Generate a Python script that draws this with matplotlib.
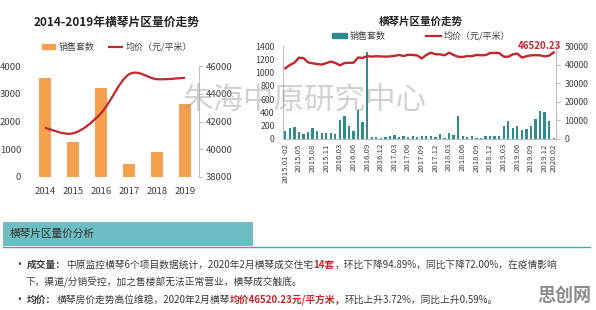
import matplotlib
matplotlib.use('Agg')
import matplotlib.pyplot as plt
from matplotlib.patches import Patch, Rectangle, PathPatch
from matplotlib.lines import Line2D
from matplotlib.path import Path
import numpy as np

plt.rcParams['font.family'] = ['Noto Sans CJK SC', 'DejaVu Sans']
plt.rcParams['axes.unicode_minus'] = False

W, H = 596, 310

# ---- data: yearly chart ----
years = ['2014', '2015', '2016', '2017', '2018', '2019']
year_sales = [3550, 1250, 3200, 480, 900, 2620]
year_price = [41550, 41150, 42600, 45400, 45050, 45150]

# ---- data: monthly chart ----
months = (['2015.01-02'] + ['2015.%02d' % m for m in range(3, 13)]
          + ['2016.01-02'] + ['2016.%02d' % m for m in range(3, 13)]
          + ['2017.%02d' % m for m in range(1, 13)]
          + ['2018.%02d' % m for m in range(1, 13)]
          + ['2019.%02d' % m for m in range(1, 13)]
          + ['2020.01', '2020.02'])
month_sales = [115, 165, 175, 100, 75, 110, 160, 115, 90, 90, 90, 75,
               280, 350, 190, 125, 440, 250, 1310,
               30, 35, 20, 25, 45, 55, 35, 40, 30, 45, 35, 40, 50, 40, 35,
               70, 20, 85, 60, 340, 50, 25, 45, 15, 10, 40, 45,
               50, 50, 200, 265, 165, 200, 130, 150, 200, 305, 415, 410,
               274, 14]
month_price = [38000, 39800, 41000, 43700, 43500, 41200, 40700, 40300, 40000,
               40800, 41600, 40900, 39600, 40800, 41000, 41000, 43800, 43600,
               44600, 44300, 44500, 44400, 44300, 44400, 44700, 45200, 44600,
               45300, 45200, 44900, 43300, 45200, 46400, 45600, 45500, 45000,
               46400, 45200, 44200, 44100, 44600, 44500, 45200, 45000, 45100,
               46200, 46300, 46247, 44300, 44200, 45500, 45900, 43800, 44500,
               45000, 45100, 45000, 44400, 44851, 46520.23]

ORANGE = '#F5A04E'
RED = '#C1272D'
TEAL = '#2F8C8E'
GREY = '#404040'
SPINE = '#BFBFBF'


def px_box(x0, y0, x1, y1):
    return [x0 / W, 1 - y1 / H, (x1 - x0) / W, (y1 - y0) / H]


def smooth_path(xs, ys):
    pts = np.column_stack([xs, ys]).astype(float)
    verts = [pts[0]]
    codes = [Path.MOVETO]
    n = len(pts)
    for i in range(n - 1):
        p0 = pts[i - 1] if i > 0 else pts[i]
        p1, p2 = pts[i], pts[i + 1]
        p3 = pts[i + 2] if i + 2 < n else pts[i + 1]
        verts += [p1 + (p2 - p0) / 6, p2 - (p3 - p1) / 6, p2]
        codes += [Path.CURVE4] * 3
    return Path(verts, codes)


fig = plt.figure(figsize=(W / 100, H / 100), dpi=100)

# ---------------- left chart ----------------
ax1 = fig.add_axes(px_box(31, 66, 199, 177))
x = np.arange(len(years))
ax1.bar(x, year_sales, width=0.42, color=ORANGE, zorder=2)
ax1.set_xlim(-0.5, len(years) - 0.5)
ax1.set_ylim(0, 4000)
ax1.set_yticks(range(0, 4001, 1000))
ax1.set_xticks(x)
ax1.set_xticklabels(years)
ax1.tick_params(axis='both', length=0, labelsize=6.8, colors=GREY)
ax1.tick_params(axis='y', pad=7)
ax1.tick_params(axis='x', pad=7)
for s in ax1.spines.values():
    s.set_visible(False)

ax1b = ax1.twinx()
ax1b.set_ylim(38000, 46000)
ax1b.set_yticks(range(38000, 46001, 2000))
ax1b.add_patch(PathPatch(smooth_path(x, year_price), facecolor='none',
                         edgecolor=RED, lw=1.6, zorder=3))
for s in ['top', 'left', 'bottom']:
    ax1b.spines[s].set_visible(False)
ax1b.spines['right'].set_color(SPINE)
ax1b.tick_params(axis='y', length=3, color=SPINE, labelsize=6.8,
                 colors=GREY, pad=2)

fig.text(117 / W, 1 - 22 / H, '2014-2019年横琴片区量价走势', ha='center',
         va='center', fontsize=8.5, fontweight='bold', color='#222222')
fig.legend([Patch(color=ORANGE), Line2D([], [], color=RED, lw=1.6)],
           ['销售套数', '均价（元/平米）'], loc='center',
           bbox_to_anchor=(117 / W, 1 - 47 / H), ncol=2, frameon=False,
           fontsize=6.5, handlelength=1.5, handleheight=0.6,
           columnspacing=1.5, handletextpad=0.4, labelcolor=GREY)

# ---------------- right chart ----------------
ax2 = fig.add_axes(px_box(283, 46, 556, 139))
xm = np.arange(len(months))
ax2.bar(xm, month_sales, width=0.5, color=TEAL, zorder=2)
ax2.set_xlim(-0.5, len(months) - 0.5)
ax2.set_ylim(0, 1400)
ax2.set_yticks(range(0, 1401, 200))
tick_idx = list(range(0, len(months) - 2, 3)) + [len(months) - 1]
ax2.set_xticks(tick_idx)
ax2.set_xticklabels([months[i] for i in tick_idx], rotation=90)
ax2.tick_params(axis='both', length=0, labelsize=6.3, colors=GREY)
ax2.tick_params(axis='y', pad=6)
ax2.tick_params(axis='x', labelsize=5.6, pad=3)
for s in ['top', 'right']:
    ax2.spines[s].set_visible(False)
ax2.spines['left'].set_color(SPINE)
ax2.spines['bottom'].set_color(SPINE)

ax2b = ax2.twinx()
ax2b.set_ylim(0, 50000)
ax2b.set_yticks(range(0, 50001, 10000))
ax2b.plot(xm, month_price, color=RED, lw=1.7, zorder=3)
for s in ['top', 'left', 'bottom']:
    ax2b.spines[s].set_visible(False)
ax2b.spines['right'].set_color(SPINE)
ax2b.tick_params(axis='y', length=3, color=SPINE, labelsize=6.3,
                 colors=GREY, pad=3)
ax2b.annotate('%.2f' % month_price[-1], xy=(xm[-1], 50000),
              xytext=(5, 0), textcoords='offset points', ha='right',
              va='center', color=RED, fontsize=7, fontweight='bold')

fig.text(421 / W, 1 - 22 / H, '横琴片区量价走势', ha='center', va='center',
         fontsize=7.6, fontweight='bold', color='#222222')
fig.legend([Patch(color=TEAL), Line2D([], [], color=RED, lw=1.6)],
           ['销售套数', '均价（元/平米）'], loc='center',
           bbox_to_anchor=(421 / W, 1 - 36 / H), ncol=2, frameon=False,
           fontsize=6.5, handlelength=1.6, handleheight=0.6,
           columnspacing=4.5, handletextpad=0.3, labelcolor=GREY)

# watermark
fig.text(183 / W, 1 - 100 / H, '朱海中原研究中心', ha='left', va='center',
         fontsize=22, color='#9a9a9a', alpha=0.45)

# ---------------- bottom analysis box ----------------
ax0 = fig.add_axes([0, 0, 1, 1], zorder=-1)
ax0.set_xlim(0, W)
ax0.set_ylim(H, 0)
ax0.axis('off')
ax0.add_patch(Rectangle((3, 222), 250, 24, facecolor='#6CBEC2',
                        edgecolor='none'))
ax0.plot([3, 590], [247, 247], color='#4AA9AE', lw=1)
ax0.text(10, 234, '横琴片区量价分析', ha='left', va='center', fontsize=7.7,
         color='#333333')

renderer = fig.canvas.get_renderer()


def rich_line(x0, y0, parts, size=7):
    xpos = x0
    for txt, col, wt in parts:
        t = ax0.text(xpos, y0, txt, ha='left', va='baseline', fontsize=size,
                     color=col, fontweight=wt)
        bb = t.get_window_extent(renderer)
        xpos = ax0.transData.inverted().transform((bb.x1, bb.y0))[0]


TXT = '#3a3a3a'
rich_line(15, 268, [('• ', TXT, 'bold'), ('成交量：', TXT, 'bold'),
                    ('中原监控横琴6个项目数据统计，2020年2月横琴成交住宅', TXT, 'normal'),
                    ('14套', RED, 'bold'),
                    ('，环比下降94.89%，同比下降72.00%，在疫情影响', TXT, 'normal')])
rich_line(25, 286, [('下，渠道/分销受控，加之售楼部无法正常营业，横琴成交触底。', TXT, 'normal')])
rich_line(15, 303, [('• ', TXT, 'bold'), ('均价：', TXT, 'bold'),
                    ('横琴房价走势高位维稳，2020年2月横琴', TXT, 'normal'),
                    ('均价46520.23元/平方米，', RED, 'bold'),
                    ('环比上升3.72%，同比上升0.59%。', TXT, 'normal')])

fig.text(537 / W, 1 - 295 / H, '思创网', ha='left', va='center', fontsize=13,
         fontweight='bold', color='#8c8c8c')

fig.savefig('out.png', dpi=100)
